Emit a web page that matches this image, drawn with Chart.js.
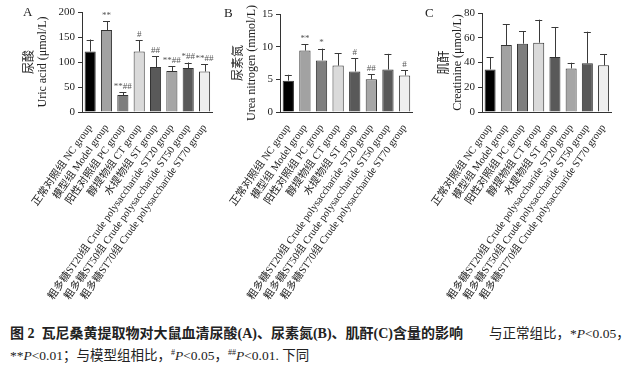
<!DOCTYPE html>
<html>
<head>
<meta charset="utf-8">
<script src="https://cdn.jsdelivr.net/npm/chart.js@4.4.1/dist/chart.umd.min.js"></script>
<style>
body{margin:0;background:#fff;width:633px;height:366px;position:relative;overflow:hidden}
canvas{position:absolute;top:0}
.tag{position:absolute;font:13px 'Liberation Serif',serif;color:#222}
.cap{position:absolute;font-size:13.5px;font-family:'Liberation Serif','Noto Sans CJK SC',serif;color:#222;white-space:pre}
.cap b{font-size:14px}
</style>
</head>
<body>
<canvas id="ca" width="217" height="310" style="left:0px"></canvas>
<canvas id="cb" width="206" height="310" style="left:211px"></canvas>
<canvas id="cc" width="194" height="310" style="left:422px"></canvas>
<div class="tag" style="left:23px;top:4px">A</div>
<div class="tag" style="left:224px;top:5px">B</div>
<div class="tag" style="left:425px;top:5px">C</div>
<div class="cap" style="left:10px;top:322px"><b>图 2  瓦尼桑黄提取物对大鼠血清尿酸(A)、尿素氮(B)、肌酐(C)含量的影响</b></div>
<div class="cap" style="left:489px;top:322px">与正常组比，*<i>P</i>&lt;0.05，</div>
<div class="cap" style="left:10px;top:344px">**<i>P</i>&lt;0.01；与模型组相比，<sup style="font-size:8px">#</sup><i>P</i>&lt;0.05，<sup style="font-size:8px">##</sup><i>P</i>&lt;0.01. 下同</div>
<script>
const groups = [
  '正常对照组 NC group',
  '模型组 Model group',
  '阳性对照组 PC group',
  '醇提物组 CT group',
  '水提物组 ST group',
  '粗多糖ST20组 Crude polysaccharide ST20 group',
  '粗多糖ST50组 Crude polysaccharide ST50 group',
  '粗多糖ST70组 Crude polysaccharide ST70 group'
]

// A 尿酸
const uricMean = [121, 164, 34, 121, 90, 82, 88, 81]
const uricSd = [24, 17, 6, 23, 21, 10, 11, 15]
const uricSig = ['', '**', '**##', '#', '##', '**##', '*##', '**##']

// B 尿素氮
const ureaMean = [4.8, 9.4, 7.9, 7.1, 6.2, 5.0, 6.5, 5.6]
const ureaSd = [0.9, 1.0, 1.8, 1.9, 2.0, 0.8, 2.4, 0.8]
const ureaSig = ['', '**', '*', '', '#', '##', '', '#']

// C 肌酐
const creaMean = [34.4, 54.1, 55.2, 56.0, 44.4, 35.2, 39.3, 37.7]
const creaSd = [10.0, 16.7, 9.9, 18.6, 24.3, 4.6, 25.6, 9.2]
const creaSig = ['', '', '', '', '', '', '', '']

const barColors = ['#000000', '#a2a2a2', '#7e7e7e', '#dadada', '#595959', '#a6a6a6', '#595959', '#eeeeee']
const serif = "'Liberation Serif', 'Noto Sans CJK SC', serif"

// 誤差棒と有意差記号
const errorBars = {
  id: 'errorBars',
  afterDatasetsDraw(chart, args, opts) {
    const ctx = chart.ctx
    const y = chart.scales.y
    const ds = chart.data.datasets[0]
    chart.getDatasetMeta(0).data.forEach((bar, i) => {
      const top = y.getPixelForValue(ds.data[i] + opts.sd[i])
      ctx.save()
      ctx.strokeStyle = '#3a3a3a'
      ctx.lineWidth = 1
      ctx.beginPath()
      ctx.moveTo(Math.round(bar.x) + 0.5, bar.y)
      ctx.lineTo(Math.round(bar.x) + 0.5, top)
      ctx.moveTo(bar.x - 3.5, Math.round(top) + 0.5)
      ctx.lineTo(bar.x + 3.5, Math.round(top) + 0.5)
      ctx.stroke()
      if (opts.sig[i]) {
        ctx.fillStyle = '#555'
        ctx.font = '9px ' + serif
        ctx.textAlign = 'center'
        ctx.textBaseline = 'bottom'
        ctx.fillText(opts.sig[i], bar.x, top - 1)
      }
      ctx.restore()
    })
  }
}

const makePanel = (id, means, sd, sig, yMax, step, title, yw, tp, top) => {
  new Chart(document.getElementById(id), {
    type: 'bar',
    data: {
      labels: groups,
      datasets: [{
        data: means,
        backgroundColor: barColors,
        borderColor: '#333',
        borderWidth: 1,
        barPercentage: 0.68,
        categoryPercentage: 1
      }]
    },
    options: {
      responsive: false,
      animation: false,
      layout: { padding: { top: top, right: 2, left: 0, bottom: 0 } },
      plugins: {
        legend: { display: false },
        tooltip: { enabled: false },
        errorBars: { sd: sd, sig: sig }
      },
      scales: {
        x: {
          grid: { display: false },
          border: { color: '#333' },
          ticks: { autoSkip: false, minRotation: 55, maxRotation: 55, padding: 2, color: '#222', font: { family: serif, size: 10.5 } },
          afterFit(s) { s.height = 310 - 112 }
        },
        y: {
          min: 0,
          max: yMax,
          ticks: { stepSize: step, padding: 3, color: '#222', font: { family: serif, size: 11 } },
          grid: { drawOnChartArea: false, tickLength: 4, color: '#333' },
          border: { color: '#333' },
          title: { display: true, text: title, color: '#222', padding: { top: tp, bottom: 0 }, font: { family: serif, size: 12, lineHeight: 1.1 } },
          afterFit(s) { s.width = yw }
        }
      }
    },
    plugins: [errorBars]
  })
}

makePanel('ca', uricMean, uricSd, uricSig, 200, 50, ['尿酸', 'Uric acid (μmol/L)'], 82, 23, 12)
makePanel('cb', ureaMean, ureaSd, ureaSig, 15, 5, ['尿素氮', 'Urea nitrogen (mmol/L)'], 69, 21, 14)
makePanel('cc', creaMean, creaSd, creaSig, 80, 20, ['肌酐', 'Creatinine (μmol/L)'], 60, 16, 13)
</script>
</body>
</html>
